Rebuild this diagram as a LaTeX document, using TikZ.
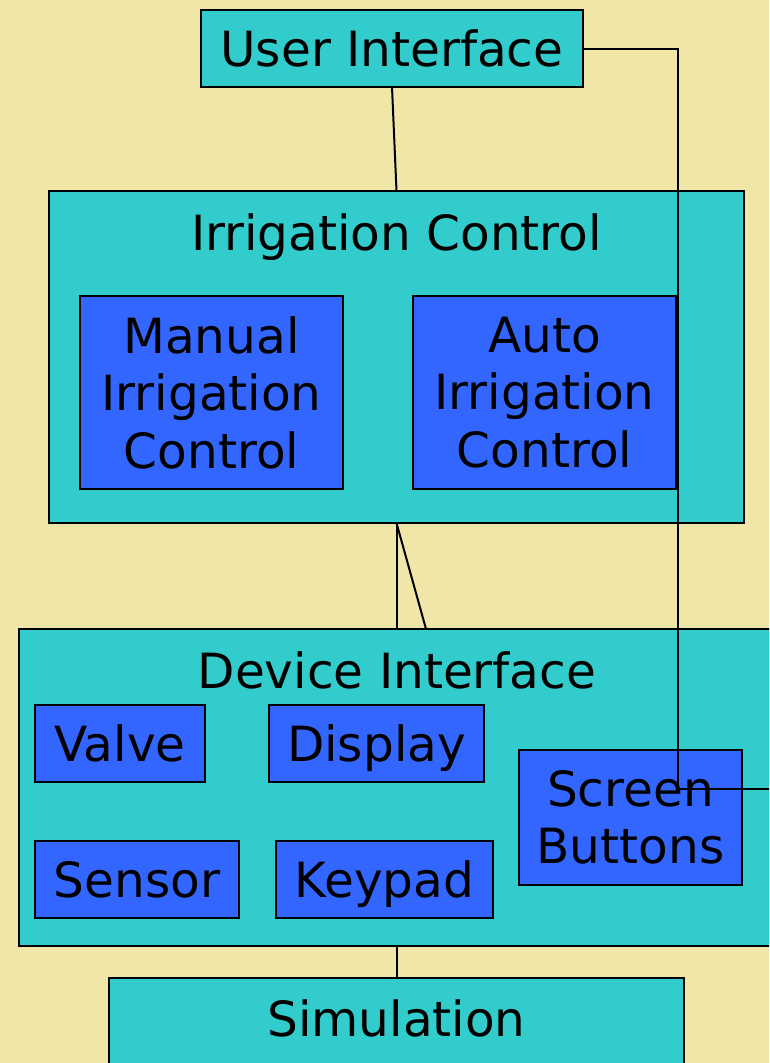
\documentclass[tikz,border=0pt]{standalone}
\usepackage{fontspec}
\setmainfont{DejaVu Sans}
\usetikzlibrary{calc}
\definecolor{paper}{HTML}{EFE6A7}
\definecolor{boxteal}{HTML}{33CCCC}
\definecolor{boxblue}{HTML}{3366FF}
\begin{document}
\begin{tikzpicture}[x=1pt,y=-1pt,
  big/.style={font=\fontsize{48.5}{57.5}\selectfont},
  frame/.style={draw=black, line width=2.4pt, inner sep=0pt, outer sep=0pt},
  outer/.style={frame, fill=boxteal},
  inner/.style={frame, fill=boxblue, big, align=center},
  single/.style={text height=36pt, text depth=0pt},
  title/.style={big, anchor=base, inner sep=0pt},
  link/.style={line width=2pt}]

  % page
  \useasboundingbox (0,0) rectangle (769,1063);
  \clip (0,0) rectangle (769,1063);
  \fill[paper] (0,0) rectangle (769,1063);

  % top level
  \node[outer, big, single, minimum width=382pt, minimum height=77pt] (ui) at (392,48.5) {User Interface};

  % irrigation control layer
  \node[outer, minimum width=695pt, minimum height=332pt] (ic) at (396.5,357) {};
  \node[title] (ictitle) at (396.5,250) {Irrigation Control};
  \node[inner, minimum width=263pt, minimum height=193pt] (manual) at (211.5,392.5) {Manual\\Irrigation\\Control};
  \node[inner, minimum width=263pt, minimum height=193pt] (auto) at (544.5,392.5) {Auto\\Irrigation\\Control};

  % device interface layer
  \node[outer, minimum width=771pt, minimum height=317pt] (di) at (404.5,787.5) {};
  \node[title] (dititle) at (397,688) {Device Interface};
  \node[inner, single, minimum width=170pt, minimum height=77pt] (valve) at (120,743.5) {Valve};
  \node[inner, single, minimum width=215pt, minimum height=77pt] (display) at (376.5,743.5) {Display};
  \node[inner, single, minimum width=204pt, minimum height=77pt] (sensor) at (137,879.5) {Sensor};
  \node[inner, single, minimum width=217pt, minimum height=77pt] (keypad) at (384.5,879.5) {Keypad};
  \node[inner, minimum width=223pt, minimum height=135pt] (sb) at (630.5,817.5) {Screen\\Buttons};

  % simulation layer
  \node[outer, minimum width=575pt, minimum height=122pt] (sim) at (396.5,1039) {};
  \node[title] (simtitle) at (396.5,1036) {Simulation};

  % connectors
  \coordinate (sbhook) at (678,789);
  \coordinate (rightend) at (775,789);
  \draw[link] (ui.south) -- (ic.north);
  \draw[link] (ui.east) -| (sbhook) -- (rightend);
  \draw[link] (ic.south) -- (ic.south |- di.north);
  \draw[link] (ic.south) -- ($(ic.south |- di.north)+(29.5,0)$);
  \draw[link] (sim.north |- di.south) -- (sim.north);
\end{tikzpicture}
\end{document}
